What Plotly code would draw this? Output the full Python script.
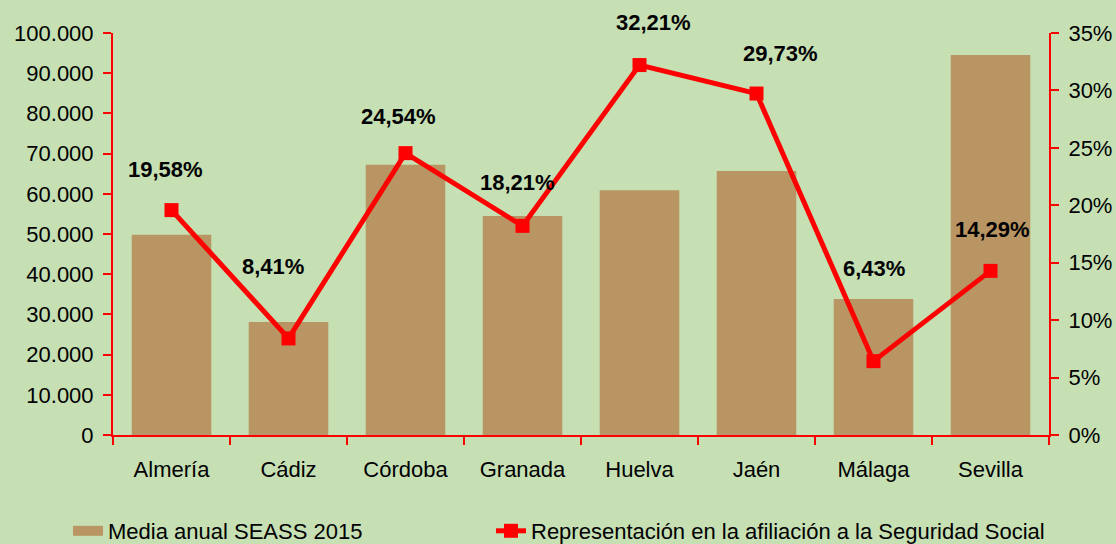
import plotly.graph_objects as go

categories = ["Almería", "Cádiz", "Córdoba", "Granada", "Huelva", "Jaén", "Málaga", "Sevilla"]
seass_2015 = [49800, 28100, 67200, 54500, 60900, 65700, 33800, 94500]
representacion = [0.1958, 0.0841, 0.2454, 0.1821, 0.3221, 0.2973, 0.0643, 0.1429]
pct_labels = ["19,58%", "8,41%", "24,54%", "18,21%", "32,21%", "29,73%", "6,43%", "14,29%"]

# label pixel offsets (style only)
label_dx = [-6, -16, -7, -5, 14, 24, 0, 2]
label_dy = [41, 72, 37, 43, 43, 40, 93, 41]

BG = "#C6E0B4"
BAR = "#B99563"
RED = "#FF0000"
FONT = "Arial, Liberation Sans, sans-serif"
FS = 22

fig = go.Figure()
fig.add_trace(go.Bar(
    x=categories, y=seass_2015, name="Media anual SEASS 2015",
    marker=dict(color=BAR, line=dict(width=0)), yaxis="y", showlegend=False,
))
# legend proxy for the bar series (wide swatch)
fig.add_trace(go.Scatter(
    x=[None], y=[None], name="Media anual SEASS 2015", mode="lines",
    line=dict(color=BAR, width=16), legend="legend",
))
fig.add_trace(go.Scatter(
    x=categories, y=representacion, name="Representación en la afiliación a la Seguridad Social",
    mode="lines+markers", line=dict(color=RED, width=5),
    marker=dict(symbol="square", size=14, color=RED), yaxis="y2", legend="legend2",
))

for c, v, t, dx, dy in zip(categories, representacion, pct_labels, label_dx, label_dy):
    fig.add_annotation(x=c, y=v, yref="y2", text="<b>" + t + "</b>", showarrow=False,
                       xshift=dx, yshift=dy, font=dict(family=FONT, size=FS, color="black"))

axis_common = dict(showline=True, linecolor=RED, linewidth=2, ticks="outside", ticklen=8,
                   tickcolor=RED, tickwidth=2, showgrid=False, zeroline=False,
                   tickfont=dict(size=FS), automargin=False)

fig.update_layout(
    width=1116, height=544,
    paper_bgcolor=BG, plot_bgcolor=BG,
    margin=dict(l=113, r=67, t=33, b=109, autoexpand=False),
    separators=",.",
    bargap=0.32,
    font=dict(family=FONT, size=FS, color="black"),
    showlegend=True,
    legend=dict(orientation="h", xref="container", yref="container", x=68 / 1116, xanchor="left",
                y=13 / 544, yanchor="middle", font=dict(size=FS), bgcolor="rgba(0,0,0,0)"),
    legend2=dict(orientation="h", xref="container", yref="container", x=491 / 1116, xanchor="left",
                 y=13 / 544, yanchor="middle", font=dict(size=FS), bgcolor="rgba(0,0,0,0)"),
    xaxis=dict(tickson="boundaries", ticklabelstandoff=14, **axis_common),
    yaxis=dict(range=[0, 100000], dtick=10000, tickformat=",d", ticklabelstandoff=5,
               **axis_common),
    yaxis2=dict(range=[0, 0.35], dtick=0.05, tickformat=".0%", overlaying="y", side="right",
                ticklabelstandoff=5, **axis_common),
)

fig.write_html("out.html", config={"displayModeBar": False},
               post_script="document.body.style.margin='0';document.body.style.overflow='hidden';")
